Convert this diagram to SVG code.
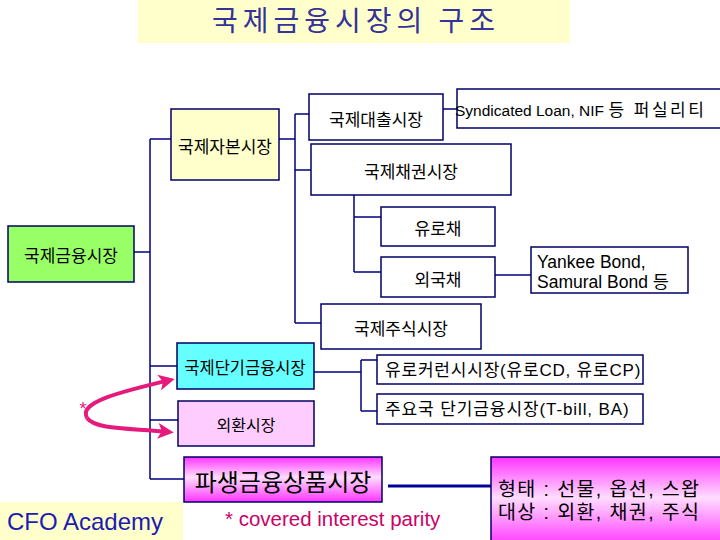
<svg xmlns="http://www.w3.org/2000/svg" width="720" height="540" viewBox="0 0 720 540">
<defs>
<style>
.bx{stroke:#000066;stroke-width:1.5}
.w{fill:#ffffff}
.t{font-family:"Noto Sans CJK KR","Liberation Sans",sans-serif;font-size:17px;fill:#000;text-anchor:middle;dominant-baseline:central}
.tl{font-family:"Liberation Sans","Noto Sans CJK KR",sans-serif;font-size:17px;fill:#000}
.ln{stroke:#000080;stroke-width:1.5;fill:none}
.pk{stroke:#E6197D;stroke-width:4;fill:none;marker-end:url(#ah)}
</style>
<marker id="ah" viewBox="0 0 10 10" refX="7" refY="5" markerWidth="16" markerHeight="16" markerUnits="userSpaceOnUse" orient="auto">
<path d="M0,0 L10,5 L0,10 L2.5,5 Z" fill="#E6197D"/>
</marker>
<linearGradient id="mg" x1="0" y1="0" x2="0" y2="1">
<stop offset="0" stop-color="#FF33FF"/>
<stop offset="0.45" stop-color="#FFDDFF"/>
<stop offset="1" stop-color="#FF33FF"/>
</linearGradient>
</defs>

<g id="title">
<rect x="138" y="0" width="432" height="43" fill="#FFFFCC"/>
<text x="356" y="31" font-family="Noto Sans CJK KR, Liberation Sans, sans-serif" font-size="28" letter-spacing="5" fill="#333399" text-anchor="middle">국제금융시장의 구조</text>
</g>

<g id="connectors">
<path class="ln" d="M150,139 V479 M150,139 H171 M134,252 H150 M150,366 H177 M150,420 H178 M150,479 H184"/>
<path class="ln" d="M279,139 H295 M295,114 V323 M295,114 H309 M295,170 H311 M295,323 H321 M443,109 H457"/>
<path class="ln" d="M354,195 V272 M354,217 H381 M354,272 H381 M495,275 H531"/>
<path class="ln" d="M314,372 H361 M361,360 V411 M361,360 H377 M361,411 H377"/>
<path d="M388,486 H491" stroke="#000099" stroke-width="3"/>
<path class="pk" d="M87,418 C78,402 120,392 170,380"/>
<path class="pk" d="M87,418 C96,430 130,428 169,432"/>
<text x="83" y="415" font-family="Liberation Sans, sans-serif" font-size="18" fill="#E6197D" text-anchor="middle">*</text>
</g>

<g id="n-finance">
<rect class="bx" x="8" y="226" width="126" height="56" fill="#99FF66"/>
<text class="t" x="71" y="254">국제금융시장</text>
</g>
<g id="n-capital">
<rect class="bx" x="171" y="109" width="108" height="71" fill="#FFFFCC"/>
<text class="t" x="225" y="145">국제자본시장</text>
</g>
<g id="n-loan">
<rect class="bx w" x="309" y="94" width="134" height="46"/>
<text class="t" x="376" y="118">국제대출시장</text>
</g>
<g id="n-syndicated">
<rect class="bx w" x="457" y="89" width="270" height="39"/>
<text class="tl" x="455" y="116" style="font-size:15.5px">Syndicated Loan, NIF <tspan style="font-size:17px" letter-spacing="2.5">등 퍼실리티</tspan></text>
</g>
<g id="n-bond">
<rect class="bx w" x="311" y="144" width="200" height="51"/>
<text class="t" x="411" y="170">국제채권시장</text>
</g>
<g id="n-eurobond">
<rect class="bx w" x="381" y="207" width="114" height="39"/>
<text class="t" x="438" y="227">유로채</text>
</g>
<g id="n-foreignbond">
<rect class="bx w" x="381" y="257" width="114" height="40"/>
<text class="t" x="438" y="278">외국채</text>
</g>
<g id="n-yankee">
<rect class="bx w" x="531" y="247" width="157" height="46"/>
<text class="tl" x="537" y="268" style="font-size:17.5px">Yankee Bond,</text>
<text class="tl" x="537" y="288" style="font-size:17.5px">Samural Bond 등</text>
</g>
<g id="n-stock">
<rect class="bx w" x="321" y="304" width="160" height="45"/>
<text class="t" x="401" y="327">국제주식시장</text>
</g>
<g id="n-short">
<rect class="bx" x="177" y="343" width="137" height="46" fill="#66FFFF"/>
<text class="t" x="245" y="367" style="font-size:16.5px">국제단기금융시장</text>
</g>
<g id="n-eurocurrency">
<rect class="bx w" x="377" y="355" width="266" height="29"/>
<text class="tl" x="385" y="370" dominant-baseline="central" letter-spacing="0.8">유로커런시시장(유로CD, 유로CP)</text>
</g>
<g id="n-major">
<rect class="bx w" x="377" y="394" width="266" height="30"/>
<text class="tl" x="385" y="409" dominant-baseline="central" letter-spacing="0.9">주요국 단기금융시장(T-bill, BA)</text>
</g>
<g id="n-fx">
<rect class="bx" x="178" y="401" width="136" height="45" fill="#FFCCFF"/>
<text class="t" x="246" y="424" style="font-size:16px">외환시장</text>
</g>
<g id="n-deriv">
<rect class="bx" x="184" y="457" width="198" height="45" fill="url(#mg)"/>
<text class="t" x="283" y="480" style="font-size:24px">파생금융상품시장</text>
</g>
<g id="n-form">
<rect class="bx" x="491" y="457" width="236" height="90" fill="url(#mg)"/>
<text class="tl" x="498" y="496" style="font-size:19.5px" letter-spacing="1.4">형태 : 선물, 옵션, 스왑</text>
<text class="tl" x="498" y="519" style="font-size:19.5px" letter-spacing="1.4">대상 : 외환, 채권, 주식</text>
</g>

<g id="footer">
<rect x="0" y="502" width="183" height="38" fill="#FFFFCC"/>
<text x="7" y="530" font-family="Liberation Sans, sans-serif" font-size="24" fill="#1C1CB0">CFO Academy</text>
<text x="225" y="526" font-family="Liberation Sans, sans-serif" font-size="20.5" fill="#CC0066">* covered interest parity</text>
</g>
</svg>
